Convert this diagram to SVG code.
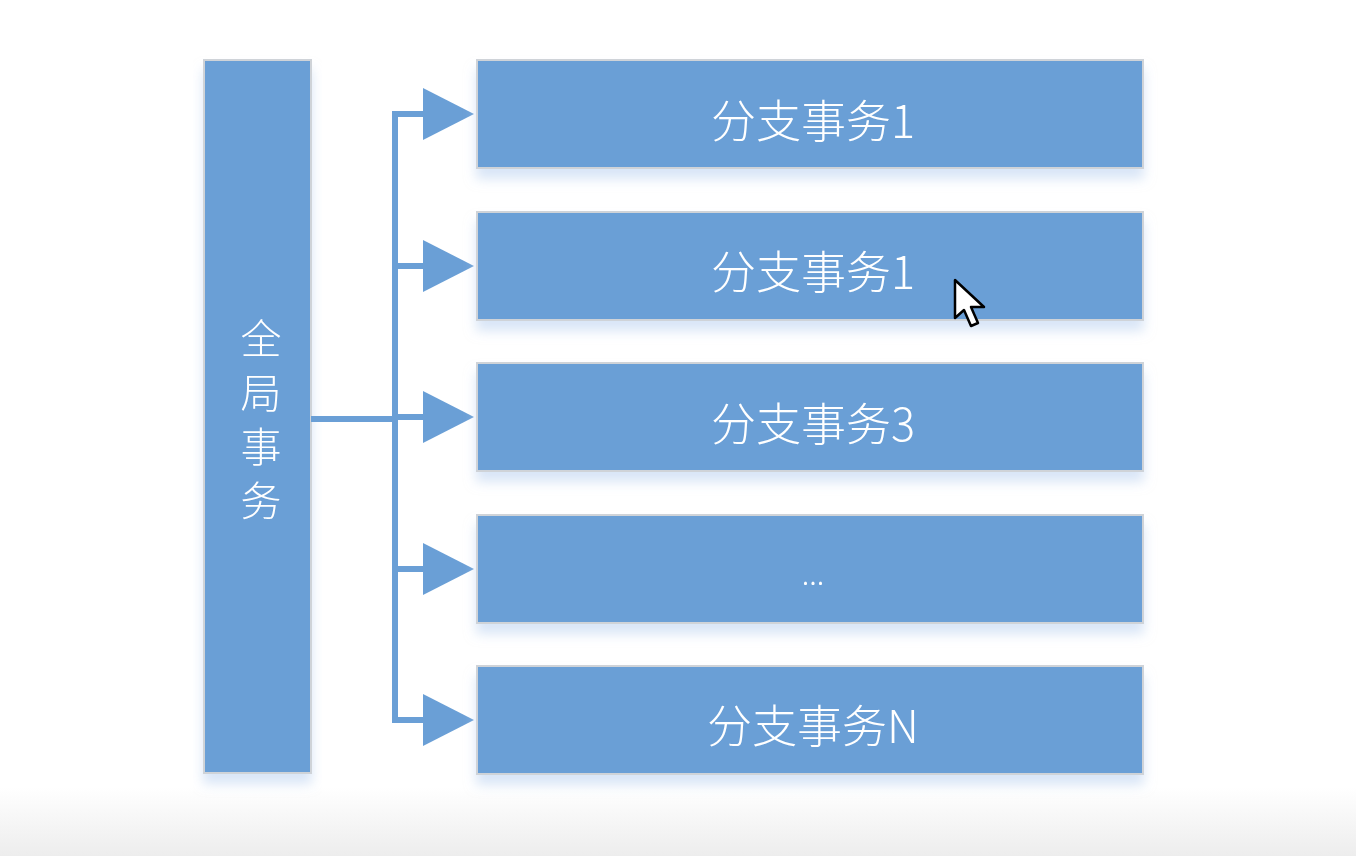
<svg xmlns="http://www.w3.org/2000/svg" width="1356" height="856" viewBox="0 0 1356 856">
  <defs>
    <linearGradient id="bg" x1="0" y1="0" x2="0" y2="1">
      <stop offset="0" stop-color="#ffffff"/>
      <stop offset="0.92" stop-color="#ffffff"/>
      <stop offset="1" stop-color="#ededed"/>
    </linearGradient>
    <filter id="sh" x="-10%" y="-20%" width="120%" height="160%">
      <feGaussianBlur in="SourceAlpha" stdDeviation="6"/>
      <feOffset dx="0" dy="10" result="b"/>
      <feFlood flood-color="#b9d0f0" flood-opacity="0.55"/>
      <feComposite in2="b" operator="in"/>
      <feMerge><feMergeNode/><feMergeNode in="SourceGraphic"/></feMerge>
    </filter>
  </defs>
  <style>
    .box { fill: #6a9fd6; stroke: #cfd3d8; stroke-width: 2; }
    .lbl { fill: #ffffff; font-family: "Noto Sans CJK SC", "Microsoft YaHei", sans-serif; font-size: 45px; font-weight: 300; text-anchor: middle; dominant-baseline: central; }
    .gl { fill: #ffffff; font-family: "Noto Sans CJK SC", sans-serif; font-size: 41px; font-weight: 300; text-anchor: middle; writing-mode: vertical-rl; letter-spacing: 13px; }
    .ln { fill: none; stroke: #6a9fd6; stroke-width: 6; }
    .ah { fill: #6a9fd6; }
  </style>
  <rect width="1356" height="856" fill="url(#bg)"/>

  <g id="global" filter="url(#sh)">
    <rect class="box" x="204" y="60" width="107" height="713"/>
    <text class="gl" x="261" y="426">全局事务</text>
  </g>

  <g id="connectors">
    <path class="ln" d="M311 419 H395 M395 111 V723 M392 114 H426 M392 266 H426 M392 417 H426 M392 569 H426 M392 720 H426"/>
    <polygon class="ah" points="423,88 474,114 423,140"/>
    <polygon class="ah" points="423,240 474,266 423,292"/>
    <polygon class="ah" points="423,391 474,417 423,443"/>
    <polygon class="ah" points="423,543 474,569 423,595"/>
    <polygon class="ah" points="423,694 474,720 423,746"/>
  </g>

  <g id="branch1" filter="url(#sh)">
    <rect class="box" x="477" y="60" width="666" height="108"/>
    <text class="lbl" x="813" y="118">分支事务1</text>
  </g>
  <g id="branch2" filter="url(#sh)">
    <rect class="box" x="477" y="212" width="666" height="108"/>
    <text class="lbl" x="813" y="269">分支事务1</text>
  </g>
  <g id="branch3" filter="url(#sh)">
    <rect class="box" x="477" y="363" width="666" height="108"/>
    <text class="lbl" x="813" y="421">分支事务3</text>
  </g>
  <g id="branch4" filter="url(#sh)">
    <rect class="box" x="477" y="515" width="666" height="108"/>
    <text class="lbl" x="813" y="572" style="font-size:30px">...</text>
  </g>
  <g id="branchN" filter="url(#sh)">
    <rect class="box" x="477" y="666" width="666" height="108"/>
    <text class="lbl" x="813" y="723">分支事务N</text>
  </g>

  <g id="cursor">
    <path d="M955 280 L955 318 L964 310 L971 326 L978 323 L971 307 L984 307 Z" fill="#ffffff" stroke="#000000" stroke-width="2.5" stroke-linejoin="round"/>
  </g>
</svg>
